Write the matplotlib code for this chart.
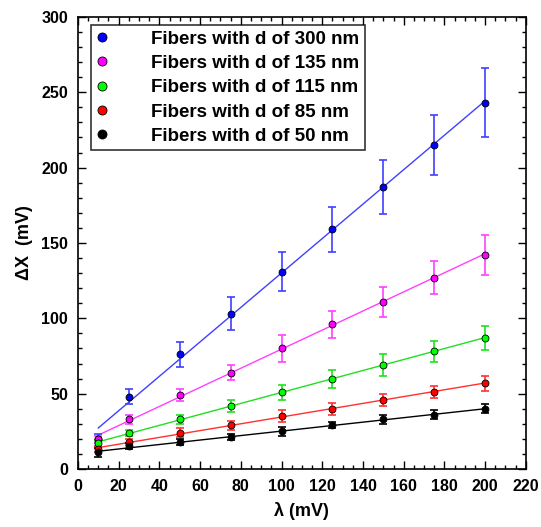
import numpy as np
import matplotlib.pyplot as plt
from matplotlib.ticker import MultipleLocator

plt.rcParams['font.family'] = ['Liberation Sans', 'DejaVu Sans']
plt.rcParams['font.weight'] = 'bold'

lam = np.array([10, 25, 50, 75, 100, 125, 150, 175, 200])

dx300 = np.array([20, 48, 76, 103, 131, 159, 187, 215, 243])
err300 = np.array([3, 5, 8, 11, 13, 15, 18, 20, 23])
dx135 = np.array([20, 33, 49, 64, 80, 96, 111, 127, 142])
err135 = np.array([2, 3, 4, 5, 9, 9, 10, 11, 13])
dx115 = np.array([17, 24, 33, 42, 51, 60, 69, 78, 87])
err115 = np.array([2, 2, 3, 4, 5, 6, 7, 7, 8])
dx85 = np.array([13, 18, 24, 29, 35, 40, 46, 51, 57])
err85 = np.array([2, 2, 3, 3, 4, 4, 4, 4, 5])
dx50 = np.array([11, 15, 18, 21, 25, 29, 33, 36, 40])
err50 = np.array([3, 2, 2, 2, 3, 2, 3, 3, 3])

series = [
    ('Fibers with d of 300 nm', dx300, err300, '#0000ff', '#4040ff'),
    ('Fibers with d of 135 nm', dx135, err135, '#ff00ff', '#ff40ff'),
    ('Fibers with d of 115 nm', dx115, err115, '#00ff00', '#20e020'),
    ('Fibers with d of 85 nm', dx85, err85, '#ff0000', '#ff3030'),
    ('Fibers with d of 50 nm', dx50, err50, '#000000', '#000000'),
]

fig = plt.figure(figsize=(5.41, 5.27), dpi=100)
ax = fig.add_axes([0.144, 0.110, 0.828, 0.858])

for label, y, e, fc, lc in series:
    # linear fit through the points
    k, b = np.polyfit(lam, y, 1)
    xf = np.array([lam[0], lam[-1]])
    ax.plot(xf, k*xf + b, color=lc, linewidth=1, zorder=2)
    ax.errorbar(lam, y, yerr=e, fmt='none', ecolor=lc, elinewidth=1.2,
                capsize=3, capthick=1.2, zorder=3)
    ax.plot(lam, y, 'o', color=fc, markeredgecolor='black', markeredgewidth=0.6,
            markersize=5, label=label, linestyle='none', zorder=4)

ax.set_xlim(0, 220)
ax.set_ylim(0, 300)
ax.xaxis.set_major_locator(MultipleLocator(20))
ax.xaxis.set_minor_locator(MultipleLocator(5))
ax.yaxis.set_major_locator(MultipleLocator(50))
ax.yaxis.set_minor_locator(MultipleLocator(10))
ax.tick_params(which='both', direction='in', top=True, right=True, labelsize=11.5)
ax.tick_params(which='major', length=6, width=1, pad=7)
ax.tick_params(which='minor', length=3, width=1)
for s in ax.spines.values():
    s.set_linewidth(1.2)

ax.set_xlabel('λ (mV)', fontsize=13, fontweight='bold', labelpad=6)
ax.set_ylabel('ΔX  (mV)', fontsize=13, fontweight='bold', labelpad=6)

leg = ax.legend(loc='upper left', bbox_to_anchor=(0.029, 0.982), fontsize=13.5,
                frameon=True, fancybox=False, edgecolor='black', handletextpad=2.3,
                labelspacing=0.38, borderpad=0.3, handlelength=0.6, borderaxespad=0,
                markerscale=1.3)
leg.get_frame().set_linewidth(1.2)

fig.savefig('out.png', dpi=100)
